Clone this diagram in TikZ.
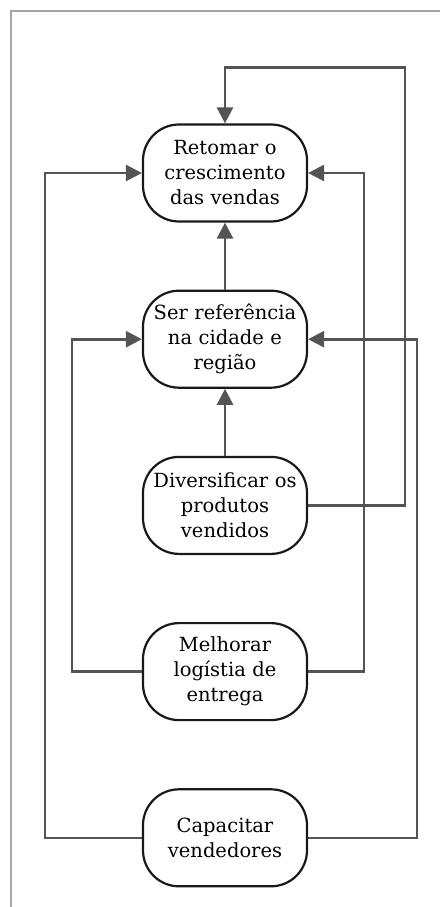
\documentclass[tikz,border=0pt]{standalone}
\usepackage{fontspec}
\setmainfont{DejaVu Serif}
\usetikzlibrary{arrows.meta, positioning}
\tikzset{
      goal box/.style={
		draw=black!90,
		line width=2.2pt,
		rounded corners=36pt,
		fill=white,
		inner sep=0pt,
		minimum width={164pt},
		minimum height={97pt},
		text width=164pt,
		align=center,
		font=\fontsize{19.5}{25}\selectfont,
	  },
  		link/.style={
    	draw=black!67,
    	line width=2.6pt,
    	-{Triangle[length=16pt,width=16pt]}, % filled arrow heads
      }
  	}
\begin{document}
\begin{tikzpicture}[x=1pt, y=-1pt, node distance=67pt]
    \useasboundingbox (0,0) rectangle (440,907);
    \draw [black!35, line width=1.5pt] (11,907) -- (11,11) -- (440,11);
    \node [goal box] (0) at (225,173) {Retomar o\\crescimento\\das vendas};
    \node [goal box, below=of 0] (1) {Ser referência\\na cidade e\\região};
    \node [goal box, below=of 1] (2) {Diversificar os\\produtos\\vendidos};
    \node [goal box, below=of 2] (3) {Melhorar\\logístia de\\entrega};
    \node [goal box, below=of 3] (4) {Capacitar\\vendedores};
    % links between the goals
    \draw [link] (2) -- (1);
    \draw [link] (1) -- (0);
    \draw [link] (2.east) -- ++(97,0) |- ([yshift=56pt]0.north) -- (0.north);
    \draw [link] (3.west) -- ++(-70,0) |- (1.west);
    \draw [link] (3.east) -- ++(56,0) |- (0.east);
    \draw [link] (4.west) -- ++(-97,0) |- (0.west);
    \draw [link] (4.east) -- ++(109,0) |- (1.east);
  \end{tikzpicture}
\end{document}
